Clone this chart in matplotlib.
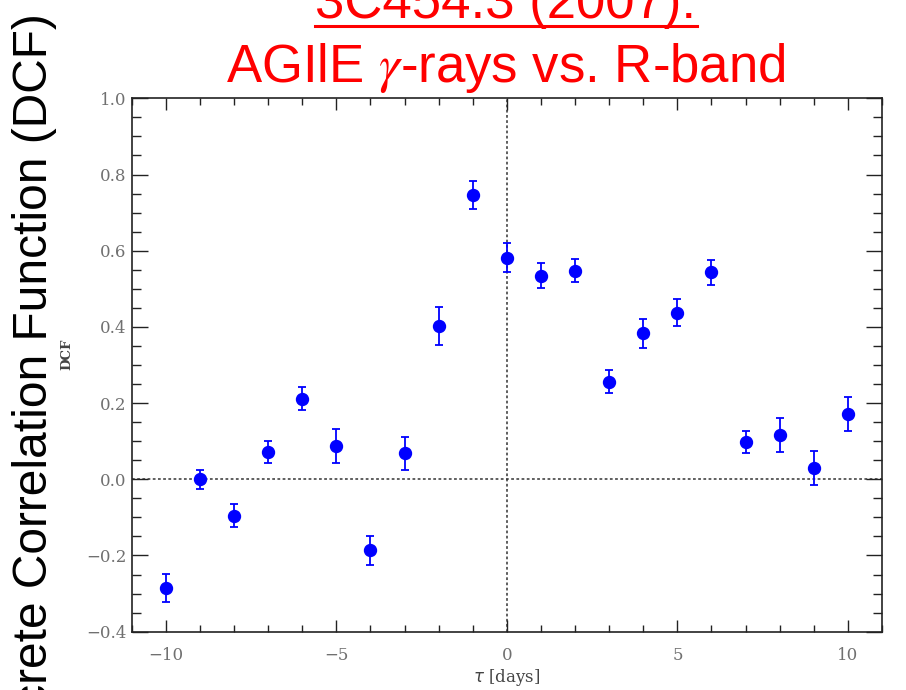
import numpy as np
import matplotlib
matplotlib.use('Agg')
import matplotlib.pyplot as plt
from matplotlib.lines import Line2D
from matplotlib.ticker import MultipleLocator, FuncFormatter

# DCF values
tau = [-10, -9, -8, -7, -6, -5, -4, -3, -2, -1, 0, 1, 2, 3, 4, 5, 6, 7, 8, 9, 10]
dcf = [-0.285, 0.0, -0.096, 0.072, 0.211, 0.087, -0.186, 0.068, 0.402, 0.746,
       0.582, 0.534, 0.547, 0.256, 0.383, 0.437, 0.543, 0.097, 0.116, 0.029, 0.171]
dcf_err = [0.037, 0.025, 0.030, 0.029, 0.030, 0.044, 0.038, 0.044, 0.049, 0.037,
           0.037, 0.033, 0.030, 0.030, 0.039, 0.035, 0.032, 0.029, 0.045, 0.045, 0.045]

title_1 = '3C454.3 (2007):'
title_2 = r'AGIlE $\gamma$-rays vs. R-band'
big_ylabel = 'Discrete Correlation Function (DCF)'

plt.rcParams['font.family'] = ['DejaVu Serif']
plt.rcParams['axes.unicode_minus'] = True

fig = plt.figure(figsize=(9.06, 6.9), dpi=100)
ax = fig.add_axes([0.1454, 0.0845, 0.8281, 0.773])

ax.axhline(0, color='#333333', lw=1.1, ls=(0, (1.8, 1.6)), zorder=1)
ax.axvline(0, color='#333333', lw=1.1, ls=(0, (1.8, 1.6)), zorder=1)

ax.errorbar(tau, dcf, yerr=dcf_err, fmt='o', color='#0000ff', ms=8.6,
            elinewidth=1.3, capsize=3.0, capthick=1.3, zorder=3)

ax.set_xlim(-11, 11)
ax.set_ylim(-0.4, 1.0)
ax.xaxis.set_major_locator(MultipleLocator(5))
ax.xaxis.set_minor_locator(MultipleLocator(1))
ax.yaxis.set_major_locator(MultipleLocator(0.2))
ax.yaxis.set_minor_locator(MultipleLocator(0.05))
ax.xaxis.set_major_formatter(FuncFormatter(lambda v, p: f'{v:.0f}'.replace('-', '\u2212')))
ax.yaxis.set_major_formatter(FuncFormatter(lambda v, p: f'{v:.1f}'.replace('-', '\u2212')))

ax.tick_params(axis='both', which='both', direction='in', top=True, right=True,
               width=1.0, color='#222222', labelcolor='#707070', labelsize=12)
ax.tick_params(axis='x', which='major', length=8.6, pad=11)
ax.tick_params(axis='x', which='minor', length=4.7)
ax.tick_params(axis='y', which='major', length=11.3, pad=4)
ax.tick_params(axis='y', which='minor', length=6.2)
for s in ax.spines.values():
    s.set_linewidth(1.2)
    s.set_color('#222222')

ax.set_xlabel(r'$\tau$ [days]', fontsize=12, color='#444444', labelpad=2)
ax.set_ylabel('DCF', fontsize=9.5, color='#444444', fontweight='bold')
ax.yaxis.set_label_coords(-0.078, 0.52)

# slide text in red / black Arial-like font
t1 = fig.text(0.5585, 1 - 18 / 690, title_1, color='red', fontsize=38,
              family='Liberation Sans', ha='center', va='baseline')
fig.text(0.5585, 1 - 82 / 690, title_2, color='red', fontsize=38,
         family='Liberation Sans', ha='center', va='baseline', math_fontfamily='stix')
fig.text(0.0386, 1 - 13 / 690, big_ylabel, color='black', fontsize=34.5,
         family='Liberation Sans', rotation=90, ha='center', va='top')

fig.canvas.draw()
bb = t1.get_window_extent(fig.canvas.get_renderer()).transformed(fig.transFigure.inverted())
uy = 1 - 25.5 / 690
fig.add_artist(Line2D([bb.x0, bb.x1], [uy, uy], color='red', lw=2.2,
                      transform=fig.transFigure))

fig.savefig('out.png', dpi=100)
